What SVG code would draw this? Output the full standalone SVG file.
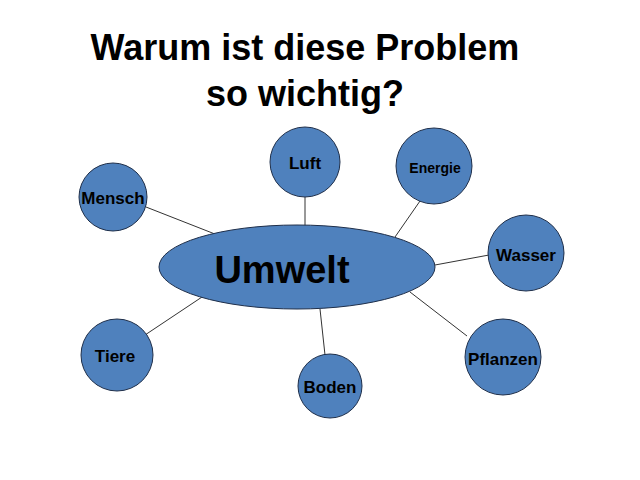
<svg xmlns="http://www.w3.org/2000/svg" width="640" height="480" viewBox="0 0 640 480">
<style>
.n{fill:#4f81bd;stroke:#1f2f4a;stroke-width:1}
.t{font-family:"Liberation Sans",Arial,sans-serif;font-weight:bold;fill:#000;text-anchor:middle}
.l{stroke:#333;stroke-width:1}
</style>
<rect width="640" height="480" fill="#fff"/>
<text class="t" x="305" y="60" font-size="36">Warum ist diese Problem</text>
<text class="t" x="305" y="106" font-size="36">so wichtig?</text>
<g id="connectors">
<line class="l" x1="305" y1="197" x2="305" y2="226"/>
<line class="l" x1="420" y1="201" x2="395" y2="237"/>
<line class="l" x1="146" y1="207" x2="220" y2="236"/>
<line class="l" x1="435" y1="265" x2="489" y2="255"/>
<line class="l" x1="130" y1="345" x2="205" y2="295"/>
<line class="l" x1="410" y1="292" x2="467" y2="336"/>
<line class="l" x1="320" y1="309" x2="325" y2="355"/>
</g>
<g id="umwelt"><ellipse class="n" cx="297" cy="267" rx="138" ry="42"/><text class="t" x="282" y="283" font-size="38">Umwelt</text></g>
<g id="luft"><circle class="n" cx="305" cy="162" r="35"/><text class="t" x="305" y="169" font-size="17">Luft</text></g>
<g id="energie"><circle class="n" cx="434" cy="166" r="38"/><text class="t" x="435" y="173" font-size="14">Energie</text></g>
<g id="mensch"><circle class="n" cx="113" cy="197" r="34"/><text class="t" x="113" y="204" font-size="17">Mensch</text></g>
<g id="wasser"><circle class="n" cx="526" cy="253" r="38"/><text class="t" x="526" y="261" font-size="17">Wasser</text></g>
<g id="tiere"><circle class="n" cx="117" cy="355" r="36"/><text class="t" x="115" y="362" font-size="17">Tiere</text></g>
<g id="pflanzen"><circle class="n" cx="503" cy="357" r="38"/><text class="t" x="503" y="365" font-size="17">Pflanzen</text></g>
<g id="boden"><circle class="n" cx="330" cy="386" r="32"/><text class="t" x="330" y="393" font-size="17">Boden</text></g>
</svg>
